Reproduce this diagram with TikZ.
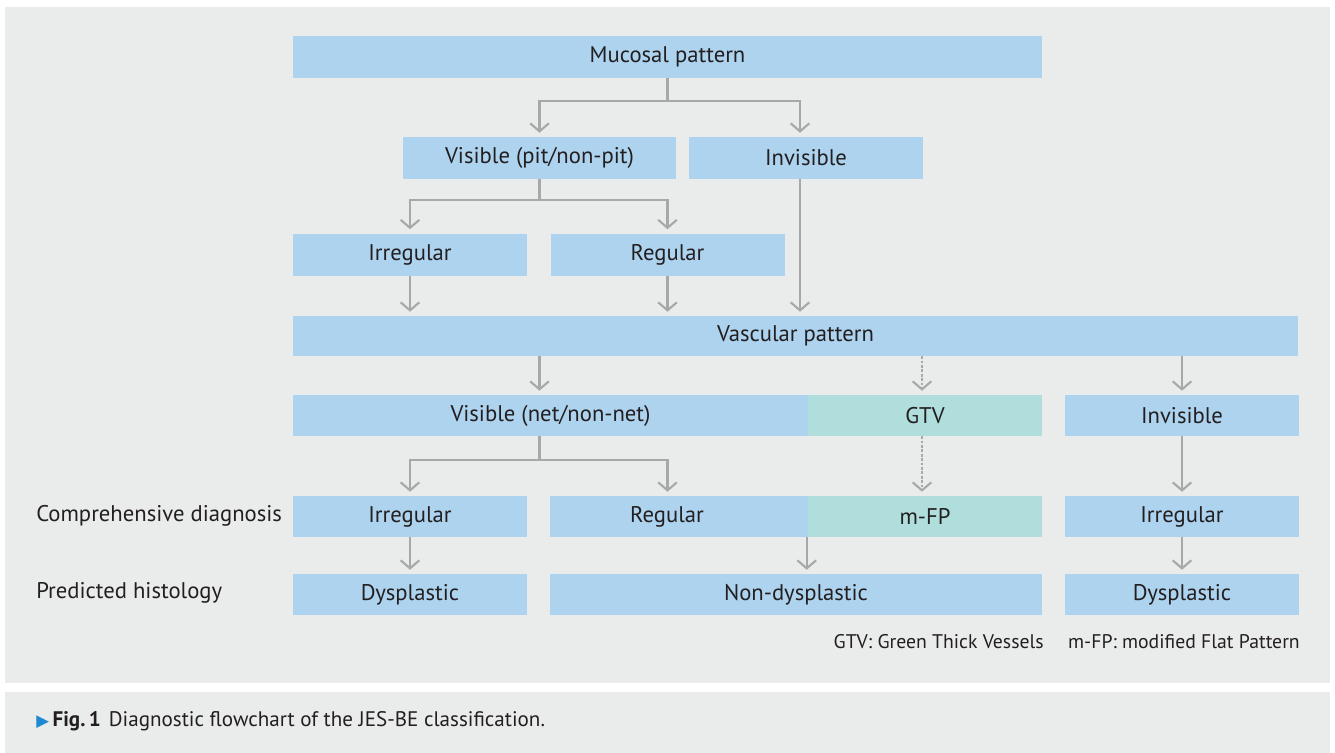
\documentclass[tikz,border=0pt]{standalone}
\usepackage{fontspec}
\setmainfont{PT Sans}
\newfontfamily\symfont{DejaVu Sans}
\usetikzlibrary{arrows.meta}
\definecolor{panel}{RGB}{234,236,236}
\definecolor{boxblue}{RGB}{173,211,239}
\definecolor{boxgreen}{RGB}{176,222,220}
\definecolor{linegray}{RGB}{168,168,168}
\definecolor{ink}{RGB}{35,31,32}
\definecolor{figblue}{RGB}{30,136,208}
\tikzset{
    BOX/.style ={rectangle,fill=boxblue,minimum width=175.5pt,minimum height=31.5pt,inner sep=0pt,text=ink,font=\fontsize{17}{20}\selectfont},
    GRN/.style ={BOX,fill=boxgreen},
    ARR/.style ={draw=linegray,line width=1.6pt,-{Straight Barb[length=6pt,width=14pt,line width=1.6pt]},shorten >=3pt},
    DAR/.style ={ARR,dash pattern=on 2pt off 1.3pt},
    LAB/.style ={anchor=west,text=ink,inner sep=0pt,font=\fontsize{17}{20}\selectfont},
    NOTE/.style ={text=ink,inner sep=0pt,font=\fontsize{14.8}{17}\selectfont}}
\begin{document}
\begin{tikzpicture}[x=0.75pt,y=-0.75pt]
        \useasboundingbox (0,0) rectangle (1335,753);
        \fill[panel] (5,7) rectangle (1330,683);
        \fill[panel] (5,692) rectangle (1330,753);
        % mucosal pattern
        \node[BOX,minimum width=561.75pt] (muc) at (667.5,57) {Mucosal pattern};
        \node[BOX,minimum width=204.75pt] (vispit) at (539.5,158) {Visible (pit/non-pit)};
        \node[BOX] (invmuc) at (806,158) {Invisible};
        \node[BOX] (irrA) at (410,254.5) {Irregular};
        \node[BOX] (regA) at (667.5,254.5) {Regular};
        % vascular pattern
        \node[BOX,minimum width=753.75pt,minimum height=30pt] (vasc) at (795.5,336) {Vascular pattern};
        \node[BOX,minimum width=386.25pt,minimum height=30.75pt] (visnet) at (550.5,415.5) {Visible (net/non-net)};
        \node[GRN,minimum height=30.75pt] (gtv) at (925,415.5) {GTV};
        \node[BOX,minimum height=30.75pt] (invvas) at (1182,415.5) {Invisible};
        % comprehensive diagnosis
        \node[LAB] (cdx) at (36,516) {Comprehensive diagnosis};
        \node[BOX,minimum height=30.75pt] (irrB) at (410,516.5) {Irregular};
        \node[BOX,minimum width=193.5pt,minimum height=30.75pt] (regB) at (679,516.5) {\hspace*{-18pt}Regular};
        \node[GRN,minimum height=30.75pt] (mfp) at (925,516.5) {m-FP};
        \node[BOX,minimum height=30.75pt] (irrC) at (1182,516.5) {Irregular};
        % predicted histology
        \node[LAB] (phx) at (36,593) {Predicted histology};
        \node[BOX,minimum height=30.75pt] (dysA) at (410,594.5) {Dysplastic};
        \node[BOX,minimum width=369pt,minimum height=30.75pt] (nondys) at (796,594.5) {Non-dysplastic};
        \node[BOX,minimum height=30.75pt] (dysB) at (1182,594.5) {Dysplastic};
        % connectors
        \draw[ARR] (muc.south) -- ++(0,23) -| (vispit.north);
        \draw[ARR] (muc.south) -- ++(0,23) -| ([xshift=-4.5pt]invmuc.north);
        \draw[ARR] (vispit.south) -- ++(0,21) -| (irrA.north);
        \draw[ARR] (vispit.south) -- ++(0,21) -| (regA.north);
        \draw[ARR] (irrA.south) -- (irrA.south |- vasc.north);
        \draw[ARR] (regA.south) -- (regA.south |- vasc.north);
        \draw[ARR] ([xshift=-4.5pt]invmuc.south) -- ([xshift=-4.5pt]invmuc.south |- vasc.north);
        \draw[ARR] (vispit |- vasc.south) -- (vispit |- visnet.north);
        \draw[DAR] ([xshift=-2.25pt]gtv.north |- vasc.south) -- ([xshift=-2.25pt]gtv.north);
        \draw[ARR] (invvas |- vasc.south) -- (invvas.north);
        \draw[ARR] (vispit |- visnet.south) -- ++(0,24) -| (irrB.north);
        \draw[ARR] (vispit |- visnet.south) -- ++(0,24) -| (regA |- regB.north);
        \draw[DAR] ([xshift=-2.25pt]gtv.south) -- ([xshift=-2.25pt]mfp.north);
        \draw[ARR] (invvas.south) -- (irrC.north);
        \draw[ARR] (irrB.south) -- (dysA.north);
        \draw[ARR] ([xshift=-0.75pt]mfp.south west) -- ([xshift=-0.75pt]mfp.south west |- nondys.north);
        \draw[ARR] (irrC.south) -- (dysB.north);
        % notes and caption
        \node[NOTE,anchor=east] (nfp) at (1300,642) {m-FP: modified Flat Pattern};
        \node[NOTE,anchor=east] (ngtv) at ([xshift=-18pt]nfp.west) {GTV: Green Thick Vessels};
        \node[NOTE,anchor=west,font=\fontsize{15.8}{18}\selectfont] (cap) at (36,721) {{\color{figblue}\symfont\fontsize{12.5}{14}\selectfont ▶}\,\textbf{Fig.\,1}\hspace{6pt}Diagnostic flowchart of the JES-BE classification.};
    \end{tikzpicture}
\end{document}
